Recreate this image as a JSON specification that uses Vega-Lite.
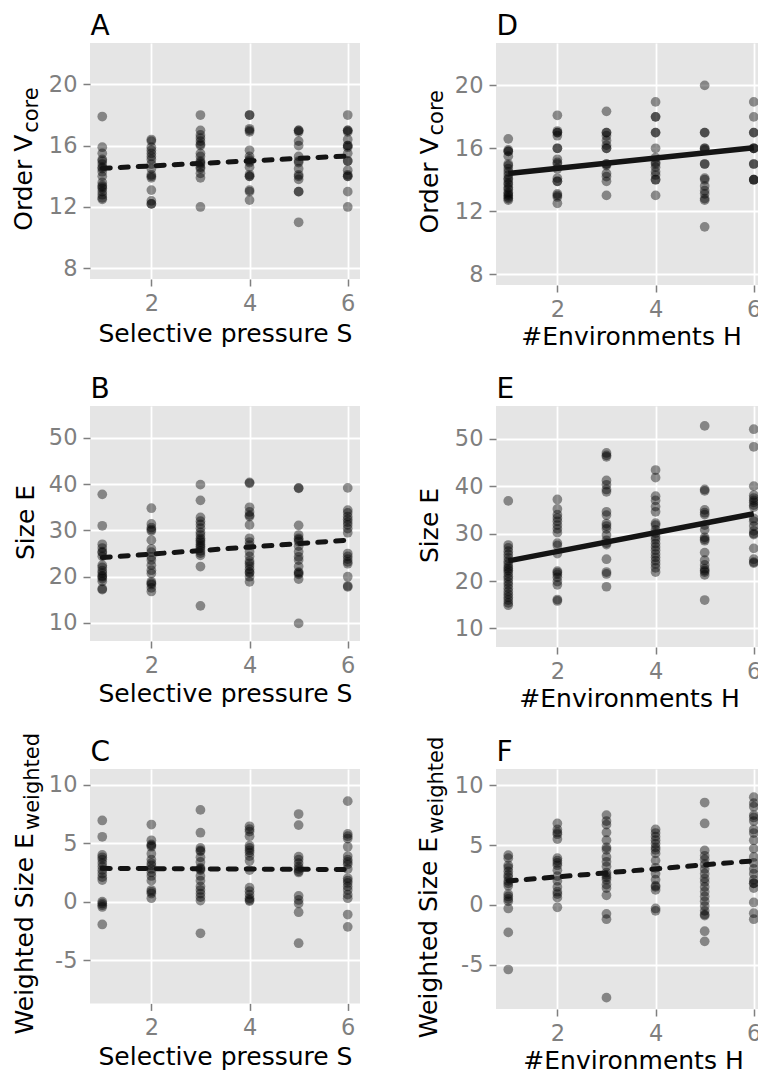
{
"$schema": "https://vega.github.io/schema/vega-lite/v6.json",
"autosize": {"type": "none"},
"padding": {"left": 90, "top": 43, "right": 668, "bottom": 1028},
"background": "white",
"datasets": {
"pts": [
{"p":"A","x":1,"y":17.9},{"p":"A","x":1,"y":15.9},{"p":"A","x":1,"y":15.5},{"p":"A","x":1,"y":15.1},{"p":"A","x":1,"y":15.0},{"p":"A","x":1,"y":14.8},{"p":"A","x":1,"y":14.6},{"p":"A","x":1,"y":14.5},{"p":"A","x":1,"y":14.3},{"p":"A","x":1,"y":14.0},{"p":"A","x":1,"y":13.6},{"p":"A","x":1,"y":13.4},{"p":"A","x":1,"y":13.3},{"p":"A","x":1,"y":13.2},{"p":"A","x":1,"y":13.0},{"p":"A","x":1,"y":12.8},{"p":"A","x":1,"y":12.6},{"p":"A","x":1,"y":12.5},
{"p":"A","x":2,"y":16.4},{"p":"A","x":2,"y":16.3},{"p":"A","x":2,"y":15.9},{"p":"A","x":2,"y":15.7},{"p":"A","x":2,"y":15.5},{"p":"A","x":2,"y":15.3},{"p":"A","x":2,"y":15.1},{"p":"A","x":2,"y":14.8},{"p":"A","x":2,"y":14.5},{"p":"A","x":2,"y":14.1},{"p":"A","x":2,"y":14.0},{"p":"A","x":2,"y":13.9},{"p":"A","x":2,"y":13.1},{"p":"A","x":2,"y":12.4},{"p":"A","x":2,"y":12.2},{"p":"A","x":2,"y":12.2},
{"p":"A","x":3,"y":18.0},{"p":"A","x":3,"y":17.0},{"p":"A","x":3,"y":16.7},{"p":"A","x":3,"y":16.5},{"p":"A","x":3,"y":16.3},{"p":"A","x":3,"y":16.1},{"p":"A","x":3,"y":16.0},{"p":"A","x":3,"y":15.5},{"p":"A","x":3,"y":15.3},{"p":"A","x":3,"y":15.0},{"p":"A","x":3,"y":14.9},{"p":"A","x":3,"y":14.8},{"p":"A","x":3,"y":14.6},{"p":"A","x":3,"y":14.5},{"p":"A","x":3,"y":14.2},{"p":"A","x":3,"y":13.9},{"p":"A","x":3,"y":12.0},
{"p":"A","x":4,"y":18.0},{"p":"A","x":4,"y":18.0},{"p":"A","x":4,"y":17.1},{"p":"A","x":4,"y":17.0},{"p":"A","x":4,"y":16.9},{"p":"A","x":4,"y":15.7},{"p":"A","x":4,"y":15.3},{"p":"A","x":4,"y":15.1},{"p":"A","x":4,"y":15.0},{"p":"A","x":4,"y":14.9},{"p":"A","x":4,"y":14.6},{"p":"A","x":4,"y":14.1},{"p":"A","x":4,"y":14.0},{"p":"A","x":4,"y":14.0},{"p":"A","x":4,"y":13.1},{"p":"A","x":4,"y":13.0},{"p":"A","x":4,"y":12.45},
{"p":"A","x":5,"y":17.0},{"p":"A","x":5,"y":17.0},{"p":"A","x":5,"y":16.9},{"p":"A","x":5,"y":16.3},{"p":"A","x":5,"y":16.0},{"p":"A","x":5,"y":15.3},{"p":"A","x":5,"y":15.0},{"p":"A","x":5,"y":14.9},{"p":"A","x":5,"y":14.5},{"p":"A","x":5,"y":14.1},{"p":"A","x":5,"y":14.0},{"p":"A","x":5,"y":13.8},{"p":"A","x":5,"y":13.0},{"p":"A","x":5,"y":13.0},{"p":"A","x":5,"y":11.0},
{"p":"A","x":6,"y":18.0},{"p":"A","x":6,"y":17.0},{"p":"A","x":6,"y":17.0},{"p":"A","x":6,"y":16.9},{"p":"A","x":6,"y":16.4},{"p":"A","x":6,"y":16.0},{"p":"A","x":6,"y":16.0},{"p":"A","x":6,"y":15.9},{"p":"A","x":6,"y":15.5},{"p":"A","x":6,"y":15.0},{"p":"A","x":6,"y":15.0},{"p":"A","x":6,"y":14.4},{"p":"A","x":6,"y":14.1},{"p":"A","x":6,"y":14.0},{"p":"A","x":6,"y":14.0},{"p":"A","x":6,"y":13.0},{"p":"A","x":6,"y":12.0},
{"p":"D","x":1,"y":16.6},{"p":"D","x":1,"y":15.9},{"p":"D","x":1,"y":15.8},{"p":"D","x":1,"y":15.8},{"p":"D","x":1,"y":15.5},{"p":"D","x":1,"y":15.0},{"p":"D","x":1,"y":14.9},{"p":"D","x":1,"y":14.7},{"p":"D","x":1,"y":14.5},{"p":"D","x":1,"y":14.3},{"p":"D","x":1,"y":14.1},{"p":"D","x":1,"y":14.0},{"p":"D","x":1,"y":13.8},{"p":"D","x":1,"y":13.7},{"p":"D","x":1,"y":13.5},{"p":"D","x":1,"y":13.4},{"p":"D","x":1,"y":13.2},{"p":"D","x":1,"y":13.1},{"p":"D","x":1,"y":13.0},{"p":"D","x":1,"y":12.9},{"p":"D","x":1,"y":12.8},{"p":"D","x":1,"y":12.7},
{"p":"D","x":2,"y":18.1},{"p":"D","x":2,"y":17.1},{"p":"D","x":2,"y":17.0},{"p":"D","x":2,"y":17.0},{"p":"D","x":2,"y":16.8},{"p":"D","x":2,"y":16.0},{"p":"D","x":2,"y":16.0},{"p":"D","x":2,"y":15.3},{"p":"D","x":2,"y":15.1},{"p":"D","x":2,"y":15.0},{"p":"D","x":2,"y":14.7},{"p":"D","x":2,"y":14.1},{"p":"D","x":2,"y":13.9},{"p":"D","x":2,"y":13.9},{"p":"D","x":2,"y":13.1},{"p":"D","x":2,"y":13.0},{"p":"D","x":2,"y":12.9},{"p":"D","x":2,"y":12.5},
{"p":"D","x":3,"y":18.35},{"p":"D","x":3,"y":17.0},{"p":"D","x":3,"y":17.0},{"p":"D","x":3,"y":16.8},{"p":"D","x":3,"y":16.5},{"p":"D","x":3,"y":16.2},{"p":"D","x":3,"y":16.0},{"p":"D","x":3,"y":16.0},{"p":"D","x":3,"y":15.0},{"p":"D","x":3,"y":15.0},{"p":"D","x":3,"y":14.9},{"p":"D","x":3,"y":14.4},{"p":"D","x":3,"y":14.2},{"p":"D","x":3,"y":13.9},{"p":"D","x":3,"y":13.0},
{"p":"D","x":4,"y":18.95},{"p":"D","x":4,"y":18.0},{"p":"D","x":4,"y":18.0},{"p":"D","x":4,"y":17.0},{"p":"D","x":4,"y":17.0},{"p":"D","x":4,"y":16.0},{"p":"D","x":4,"y":15.4},{"p":"D","x":4,"y":15.1},{"p":"D","x":4,"y":15.0},{"p":"D","x":4,"y":14.8},{"p":"D","x":4,"y":14.5},{"p":"D","x":4,"y":14.3},{"p":"D","x":4,"y":14.0},{"p":"D","x":4,"y":14.0},{"p":"D","x":4,"y":13.0},
{"p":"D","x":5,"y":20.0},{"p":"D","x":5,"y":17.0},{"p":"D","x":5,"y":17.0},{"p":"D","x":5,"y":16.0},{"p":"D","x":5,"y":16.0},{"p":"D","x":5,"y":15.9},{"p":"D","x":5,"y":15.0},{"p":"D","x":5,"y":15.0},{"p":"D","x":5,"y":14.1},{"p":"D","x":5,"y":14.0},{"p":"D","x":5,"y":13.6},{"p":"D","x":5,"y":13.3},{"p":"D","x":5,"y":13.1},{"p":"D","x":5,"y":12.8},{"p":"D","x":5,"y":12.7},{"p":"D","x":5,"y":11.0},
{"p":"D","x":6,"y":18.95},{"p":"D","x":6,"y":18.0},{"p":"D","x":6,"y":17.0},{"p":"D","x":6,"y":17.0},{"p":"D","x":6,"y":16.0},{"p":"D","x":6,"y":16.0},{"p":"D","x":6,"y":16.0},{"p":"D","x":6,"y":15.0},{"p":"D","x":6,"y":15.0},{"p":"D","x":6,"y":14.0},{"p":"D","x":6,"y":14.0},{"p":"D","x":6,"y":14.0},
{"p":"B","x":1,"y":37.8},{"p":"B","x":1,"y":31.0},{"p":"B","x":1,"y":27.0},{"p":"B","x":1,"y":26.2},{"p":"B","x":1,"y":25.4},{"p":"B","x":1,"y":25.2},{"p":"B","x":1,"y":24.4},{"p":"B","x":1,"y":22.5},{"p":"B","x":1,"y":22.0},{"p":"B","x":1,"y":21.3},{"p":"B","x":1,"y":20.8},{"p":"B","x":1,"y":20.2},{"p":"B","x":1,"y":20.0},{"p":"B","x":1,"y":19.6},{"p":"B","x":1,"y":19.0},{"p":"B","x":1,"y":17.4},{"p":"B","x":1,"y":17.2},
{"p":"B","x":2,"y":34.8},{"p":"B","x":2,"y":31.4},{"p":"B","x":2,"y":30.6},{"p":"B","x":2,"y":30.2},{"p":"B","x":2,"y":29.9},{"p":"B","x":2,"y":27.9},{"p":"B","x":2,"y":26.0},{"p":"B","x":2,"y":25.3},{"p":"B","x":2,"y":24.3},{"p":"B","x":2,"y":23.6},{"p":"B","x":2,"y":22.5},{"p":"B","x":2,"y":21.4},{"p":"B","x":2,"y":20.7},{"p":"B","x":2,"y":18.9},{"p":"B","x":2,"y":18.6},{"p":"B","x":2,"y":18.3},{"p":"B","x":2,"y":17.6},{"p":"B","x":2,"y":16.8},
{"p":"B","x":3,"y":39.9},{"p":"B","x":3,"y":36.5},{"p":"B","x":3,"y":32.8},{"p":"B","x":3,"y":32.0},{"p":"B","x":3,"y":31.3},{"p":"B","x":3,"y":30.5},{"p":"B","x":3,"y":29.6},{"p":"B","x":3,"y":29.0},{"p":"B","x":3,"y":28.3},{"p":"B","x":3,"y":27.9},{"p":"B","x":3,"y":27.5},{"p":"B","x":3,"y":27.0},{"p":"B","x":3,"y":26.6},{"p":"B","x":3,"y":26.2},{"p":"B","x":3,"y":25.6},{"p":"B","x":3,"y":25.1},{"p":"B","x":3,"y":24.6},{"p":"B","x":3,"y":22.2},{"p":"B","x":3,"y":13.7},
{"p":"B","x":4,"y":40.4},{"p":"B","x":4,"y":40.2},{"p":"B","x":4,"y":35.0},{"p":"B","x":4,"y":34.0},{"p":"B","x":4,"y":33.3},{"p":"B","x":4,"y":33.0},{"p":"B","x":4,"y":31.2},{"p":"B","x":4,"y":28.3},{"p":"B","x":4,"y":27.5},{"p":"B","x":4,"y":26.8},{"p":"B","x":4,"y":25.4},{"p":"B","x":4,"y":24.4},{"p":"B","x":4,"y":23.4},{"p":"B","x":4,"y":22.9},{"p":"B","x":4,"y":22.3},{"p":"B","x":4,"y":21.6},{"p":"B","x":4,"y":21.0},{"p":"B","x":4,"y":20.8},{"p":"B","x":4,"y":20.0},{"p":"B","x":4,"y":18.9},
{"p":"B","x":5,"y":39.2},{"p":"B","x":5,"y":39.1},{"p":"B","x":5,"y":31.1},{"p":"B","x":5,"y":29.0},{"p":"B","x":5,"y":28.3},{"p":"B","x":5,"y":28.0},{"p":"B","x":5,"y":27.6},{"p":"B","x":5,"y":26.6},{"p":"B","x":5,"y":25.4},{"p":"B","x":5,"y":24.3},{"p":"B","x":5,"y":23.6},{"p":"B","x":5,"y":22.2},{"p":"B","x":5,"y":21.0},{"p":"B","x":5,"y":20.8},{"p":"B","x":5,"y":20.5},{"p":"B","x":5,"y":19.5},{"p":"B","x":5,"y":9.9},
{"p":"B","x":6,"y":39.2},{"p":"B","x":6,"y":34.4},{"p":"B","x":6,"y":33.8},{"p":"B","x":6,"y":33.0},{"p":"B","x":6,"y":32.4},{"p":"B","x":6,"y":31.8},{"p":"B","x":6,"y":31.2},{"p":"B","x":6,"y":30.4},{"p":"B","x":6,"y":29.5},{"p":"B","x":6,"y":25.0},{"p":"B","x":6,"y":24.4},{"p":"B","x":6,"y":23.8},{"p":"B","x":6,"y":23.2},{"p":"B","x":6,"y":22.8},{"p":"B","x":6,"y":20.0},{"p":"B","x":6,"y":18.0},{"p":"B","x":6,"y":17.8},
{"p":"E","x":1,"y":36.9},{"p":"E","x":1,"y":27.6},{"p":"E","x":1,"y":27.0},{"p":"E","x":1,"y":26.3},{"p":"E","x":1,"y":25.6},{"p":"E","x":1,"y":24.9},{"p":"E","x":1,"y":24.2},{"p":"E","x":1,"y":23.6},{"p":"E","x":1,"y":23.0},{"p":"E","x":1,"y":22.6},{"p":"E","x":1,"y":22.2},{"p":"E","x":1,"y":21.7},{"p":"E","x":1,"y":21.0},{"p":"E","x":1,"y":20.5},{"p":"E","x":1,"y":19.8},{"p":"E","x":1,"y":19.2},{"p":"E","x":1,"y":18.5},{"p":"E","x":1,"y":17.8},{"p":"E","x":1,"y":17.2},{"p":"E","x":1,"y":16.6},{"p":"E","x":1,"y":16.0},{"p":"E","x":1,"y":15.4},{"p":"E","x":1,"y":14.9},
{"p":"E","x":2,"y":37.2},{"p":"E","x":2,"y":35.2},{"p":"E","x":2,"y":34.0},{"p":"E","x":2,"y":33.3},{"p":"E","x":2,"y":32.6},{"p":"E","x":2,"y":31.8},{"p":"E","x":2,"y":31.0},{"p":"E","x":2,"y":30.2},{"p":"E","x":2,"y":28.0},{"p":"E","x":2,"y":27.5},{"p":"E","x":2,"y":25.8},{"p":"E","x":2,"y":22.1},{"p":"E","x":2,"y":21.8},{"p":"E","x":2,"y":21.4},{"p":"E","x":2,"y":20.8},{"p":"E","x":2,"y":19.9},{"p":"E","x":2,"y":19.2},{"p":"E","x":2,"y":16.1},{"p":"E","x":2,"y":15.8},
{"p":"E","x":3,"y":47.0},{"p":"E","x":3,"y":46.5},{"p":"E","x":3,"y":46.2},{"p":"E","x":3,"y":41.2},{"p":"E","x":3,"y":40.3},{"p":"E","x":3,"y":39.3},{"p":"E","x":3,"y":38.8},{"p":"E","x":3,"y":34.6},{"p":"E","x":3,"y":33.9},{"p":"E","x":3,"y":32.1},{"p":"E","x":3,"y":31.6},{"p":"E","x":3,"y":31.0},{"p":"E","x":3,"y":29.7},{"p":"E","x":3,"y":28.6},{"p":"E","x":3,"y":28.0},{"p":"E","x":3,"y":27.7},{"p":"E","x":3,"y":24.6},{"p":"E","x":3,"y":21.9},{"p":"E","x":3,"y":21.5},{"p":"E","x":3,"y":18.8},
{"p":"E","x":4,"y":43.4},{"p":"E","x":4,"y":41.8},{"p":"E","x":4,"y":37.9},{"p":"E","x":4,"y":37.0},{"p":"E","x":4,"y":35.7},{"p":"E","x":4,"y":34.6},{"p":"E","x":4,"y":32.2},{"p":"E","x":4,"y":31.8},{"p":"E","x":4,"y":30.8},{"p":"E","x":4,"y":30.1},{"p":"E","x":4,"y":29.3},{"p":"E","x":4,"y":28.7},{"p":"E","x":4,"y":27.9},{"p":"E","x":4,"y":27.2},{"p":"E","x":4,"y":26.5},{"p":"E","x":4,"y":25.7},{"p":"E","x":4,"y":25.0},{"p":"E","x":4,"y":24.3},{"p":"E","x":4,"y":23.6},{"p":"E","x":4,"y":22.8},{"p":"E","x":4,"y":21.9},
{"p":"E","x":5,"y":52.7},{"p":"E","x":5,"y":39.3},{"p":"E","x":5,"y":39.0},{"p":"E","x":5,"y":35.0},{"p":"E","x":5,"y":34.4},{"p":"E","x":5,"y":34.0},{"p":"E","x":5,"y":31.8},{"p":"E","x":5,"y":30.8},{"p":"E","x":5,"y":29.2},{"p":"E","x":5,"y":28.8},{"p":"E","x":5,"y":28.5},{"p":"E","x":5,"y":26.0},{"p":"E","x":5,"y":24.4},{"p":"E","x":5,"y":23.4},{"p":"E","x":5,"y":22.6},{"p":"E","x":5,"y":22.2},{"p":"E","x":5,"y":21.9},{"p":"E","x":5,"y":21.3},{"p":"E","x":5,"y":16.0},
{"p":"E","x":6,"y":52.0},{"p":"E","x":6,"y":48.3},{"p":"E","x":6,"y":40.0},{"p":"E","x":6,"y":38.1},{"p":"E","x":6,"y":37.5},{"p":"E","x":6,"y":37.0},{"p":"E","x":6,"y":36.6},{"p":"E","x":6,"y":36.0},{"p":"E","x":6,"y":35.6},{"p":"E","x":6,"y":33.2},{"p":"E","x":6,"y":32.6},{"p":"E","x":6,"y":31.6},{"p":"E","x":6,"y":30.6},{"p":"E","x":6,"y":30.0},{"p":"E","x":6,"y":29.8},{"p":"E","x":6,"y":26.9},{"p":"E","x":6,"y":24.6},{"p":"E","x":6,"y":24.0},{"p":"E","x":6,"y":23.8},
{"p":"C","x":1,"y":6.95},{"p":"C","x":1,"y":5.55},{"p":"C","x":1,"y":4.0},{"p":"C","x":1,"y":3.8},{"p":"C","x":1,"y":3.6},{"p":"C","x":1,"y":3.3},{"p":"C","x":1,"y":3.0},{"p":"C","x":1,"y":2.7},{"p":"C","x":1,"y":2.4},{"p":"C","x":1,"y":2.1},{"p":"C","x":1,"y":1.85},{"p":"C","x":1,"y":0.0},{"p":"C","x":1,"y":-0.15},{"p":"C","x":1,"y":-0.3},{"p":"C","x":1,"y":-0.45},{"p":"C","x":1,"y":-1.95},
{"p":"C","x":2,"y":6.6},{"p":"C","x":2,"y":5.25},{"p":"C","x":2,"y":4.9},{"p":"C","x":2,"y":4.8},{"p":"C","x":2,"y":4.7},{"p":"C","x":2,"y":4.1},{"p":"C","x":2,"y":3.6},{"p":"C","x":2,"y":3.3},{"p":"C","x":2,"y":3.1},{"p":"C","x":2,"y":2.8},{"p":"C","x":2,"y":2.5},{"p":"C","x":2,"y":2.2},{"p":"C","x":2,"y":1.8},{"p":"C","x":2,"y":1.0},{"p":"C","x":2,"y":0.85},{"p":"C","x":2,"y":0.7},{"p":"C","x":2,"y":0.3},
{"p":"C","x":3,"y":7.85},{"p":"C","x":3,"y":5.9},{"p":"C","x":3,"y":4.6},{"p":"C","x":3,"y":4.4},{"p":"C","x":3,"y":4.3},{"p":"C","x":3,"y":3.8},{"p":"C","x":3,"y":3.4},{"p":"C","x":3,"y":2.9},{"p":"C","x":3,"y":2.8},{"p":"C","x":3,"y":2.7},{"p":"C","x":3,"y":2.2},{"p":"C","x":3,"y":1.8},{"p":"C","x":3,"y":1.3},{"p":"C","x":3,"y":1.0},{"p":"C","x":3,"y":0.7},{"p":"C","x":3,"y":0.4},{"p":"C","x":3,"y":0.1},{"p":"C","x":3,"y":-2.7},
{"p":"C","x":4,"y":6.45},{"p":"C","x":4,"y":6.2},{"p":"C","x":4,"y":6.0},{"p":"C","x":4,"y":5.6},{"p":"C","x":4,"y":4.8},{"p":"C","x":4,"y":4.6},{"p":"C","x":4,"y":4.4},{"p":"C","x":4,"y":4.2},{"p":"C","x":4,"y":3.9},{"p":"C","x":4,"y":3.5},{"p":"C","x":4,"y":2.7},{"p":"C","x":4,"y":1.2},{"p":"C","x":4,"y":0.9},{"p":"C","x":4,"y":0.6},{"p":"C","x":4,"y":0.3},{"p":"C","x":4,"y":0.15},{"p":"C","x":4,"y":0.05},
{"p":"C","x":5,"y":7.5},{"p":"C","x":5,"y":6.55},{"p":"C","x":5,"y":3.85},{"p":"C","x":5,"y":3.6},{"p":"C","x":5,"y":3.3},{"p":"C","x":5,"y":3.0},{"p":"C","x":5,"y":2.8},{"p":"C","x":5,"y":2.6},{"p":"C","x":5,"y":2.5},{"p":"C","x":5,"y":0.5},{"p":"C","x":5,"y":0.15},{"p":"C","x":5,"y":-0.15},{"p":"C","x":5,"y":-0.9},{"p":"C","x":5,"y":-3.55},
{"p":"C","x":6,"y":8.6},{"p":"C","x":6,"y":5.8},{"p":"C","x":6,"y":5.6},{"p":"C","x":6,"y":5.4},{"p":"C","x":6,"y":4.7},{"p":"C","x":6,"y":3.9},{"p":"C","x":6,"y":3.6},{"p":"C","x":6,"y":3.4},{"p":"C","x":6,"y":3.2},{"p":"C","x":6,"y":2.8},{"p":"C","x":6,"y":2.0},{"p":"C","x":6,"y":1.8},{"p":"C","x":6,"y":1.6},{"p":"C","x":6,"y":1.3},{"p":"C","x":6,"y":1.0},{"p":"C","x":6,"y":0.6},{"p":"C","x":6,"y":0.3},{"p":"C","x":6,"y":-1.1},{"p":"C","x":6,"y":-2.15},
{"p":"F","x":1,"y":4.15},{"p":"F","x":1,"y":3.9},{"p":"F","x":1,"y":3.3},{"p":"F","x":1,"y":3.1},{"p":"F","x":1,"y":2.8},{"p":"F","x":1,"y":2.5},{"p":"F","x":1,"y":2.3},{"p":"F","x":1,"y":2.0},{"p":"F","x":1,"y":1.8},{"p":"F","x":1,"y":1.6},{"p":"F","x":1,"y":0.9},{"p":"F","x":1,"y":0.7},{"p":"F","x":1,"y":0.5},{"p":"F","x":1,"y":0.3},{"p":"F","x":1,"y":-0.3},{"p":"F","x":1,"y":-2.3},{"p":"F","x":1,"y":-5.4},
{"p":"F","x":2,"y":6.8},{"p":"F","x":2,"y":6.3},{"p":"F","x":2,"y":6.05},{"p":"F","x":2,"y":5.9},{"p":"F","x":2,"y":5.5},{"p":"F","x":2,"y":3.9},{"p":"F","x":2,"y":3.7},{"p":"F","x":2,"y":3.5},{"p":"F","x":2,"y":3.3},{"p":"F","x":2,"y":2.9},{"p":"F","x":2,"y":2.4},{"p":"F","x":2,"y":2.0},{"p":"F","x":2,"y":1.5},{"p":"F","x":2,"y":1.1},{"p":"F","x":2,"y":0.9},{"p":"F","x":2,"y":0.6},{"p":"F","x":2,"y":-0.2},
{"p":"F","x":3,"y":7.5},{"p":"F","x":3,"y":7.0},{"p":"F","x":3,"y":6.7},{"p":"F","x":3,"y":6.05},{"p":"F","x":3,"y":5.4},{"p":"F","x":3,"y":4.8},{"p":"F","x":3,"y":4.6},{"p":"F","x":3,"y":4.0},{"p":"F","x":3,"y":3.6},{"p":"F","x":3,"y":3.2},{"p":"F","x":3,"y":2.7},{"p":"F","x":3,"y":2.5},{"p":"F","x":3,"y":2.3},{"p":"F","x":3,"y":2.1},{"p":"F","x":3,"y":1.7},{"p":"F","x":3,"y":1.4},{"p":"F","x":3,"y":0.8},{"p":"F","x":3,"y":-0.75},{"p":"F","x":3,"y":-1.2},{"p":"F","x":3,"y":-7.75},
{"p":"F","x":4,"y":6.3},{"p":"F","x":4,"y":6.0},{"p":"F","x":4,"y":5.7},{"p":"F","x":4,"y":5.4},{"p":"F","x":4,"y":5.1},{"p":"F","x":4,"y":4.8},{"p":"F","x":4,"y":4.6},{"p":"F","x":4,"y":4.3},{"p":"F","x":4,"y":3.7},{"p":"F","x":4,"y":3.1},{"p":"F","x":4,"y":2.6},{"p":"F","x":4,"y":2.1},{"p":"F","x":4,"y":1.6},{"p":"F","x":4,"y":1.5},{"p":"F","x":4,"y":1.25},{"p":"F","x":4,"y":-0.3},{"p":"F","x":4,"y":-0.5},
{"p":"F","x":5,"y":8.55},{"p":"F","x":5,"y":6.8},{"p":"F","x":5,"y":4.55},{"p":"F","x":5,"y":4.1},{"p":"F","x":5,"y":3.8},{"p":"F","x":5,"y":3.4},{"p":"F","x":5,"y":3.0},{"p":"F","x":5,"y":2.6},{"p":"F","x":5,"y":2.2},{"p":"F","x":5,"y":1.9},{"p":"F","x":5,"y":1.5},{"p":"F","x":5,"y":1.1},{"p":"F","x":5,"y":0.7},{"p":"F","x":5,"y":0.3},{"p":"F","x":5,"y":-0.1},{"p":"F","x":5,"y":-0.5},{"p":"F","x":5,"y":-0.8},{"p":"F","x":5,"y":-0.9},{"p":"F","x":5,"y":-2.2},{"p":"F","x":5,"y":-3.05},
{"p":"F","x":6,"y":9.0},{"p":"F","x":6,"y":8.5},{"p":"F","x":6,"y":8.2},{"p":"F","x":6,"y":7.5},{"p":"F","x":6,"y":7.3},{"p":"F","x":6,"y":7.0},{"p":"F","x":6,"y":6.3},{"p":"F","x":6,"y":6.0},{"p":"F","x":6,"y":5.4},{"p":"F","x":6,"y":4.7},{"p":"F","x":6,"y":4.0},{"p":"F","x":6,"y":3.5},{"p":"F","x":6,"y":3.0},{"p":"F","x":6,"y":2.6},{"p":"F","x":6,"y":2.1},{"p":"F","x":6,"y":1.8},{"p":"F","x":6,"y":1.8},{"p":"F","x":6,"y":1.4},{"p":"F","x":6,"y":0.2},{"p":"F","x":6,"y":-0.7},{"p":"F","x":6,"y":-1.2}
],
"fit": [
{"p":"A","x":1,"y":14.52},{"p":"A","x":6,"y":15.33},
{"p":"B","x":1,"y":24.15},{"p":"B","x":6,"y":27.9},
{"p":"C","x":1,"y":2.85},{"p":"C","x":6,"y":2.75},
{"p":"D","x":1,"y":14.4},{"p":"D","x":6,"y":16.03},
{"p":"E","x":1,"y":24.25},{"p":"E","x":6,"y":34.2},
{"p":"F","x":1,"y":2.0},{"p":"F","x":6,"y":3.68}
]
},
"columns": 2,
"align": "all",
"bounds": "flush",
"spacing": {"row": 121, "column": 136},
"concat": [
{
 "width": 270, "height": 236,
 "layer": [
  {"data": {"name": "pts"}, "transform": [{"filter": {"field": "p", "equal": "A"}}],
   "mark": {"type": "circle", "size": 95, "color": "#000000", "opacity": 0.42},
   "encoding": {
    "x": {"field": "x", "type": "quantitative", "scale": {"domain": [0.75, 6.25], "nice": false, "zero": false},
          "axis": {"values": [2,4,6], "title": "Selective pressure S", "titleY": 62}},
    "y": {"field": "y", "type": "quantitative", "scale": {"domain": [7.3, 22.7], "nice": false, "zero": false},
          "axis": {"values": [8,12,16,20], "title": "Order V", "titleAlign": "left", "titleX": -58.5, "titleY": 187.3, "labelExpr": "'' + datum.value"}}
   }},
  {"data": {"name": "fit"}, "transform": [{"filter": {"field": "p", "equal": "A"}}],
   "mark": {"type": "line", "color": "#141414", "strokeWidth": 5, "strokeDash": [8, 10], "strokeCap": "round"},
   "encoding": {
    "x": {"field": "x", "type": "quantitative", "axis": {"orient": "top", "values": [1,3,5], "gridColor": "#f2f2f2", "gridWidth": 1, "labels": false, "ticks": false, "title": "A", "titleFontSize": 28, "titleAlign": "left", "titleBaseline": "alphabetic", "titleX": 0, "titleY": -8.5}},
    "y": {"field": "y", "type": "quantitative", "axis": {"orient": "left", "values": [10,14,18,22], "gridColor": "#f2f2f2", "gridWidth": 1, "labels": false, "ticks": false, "title": "core", "titleFontSize": 21, "titleAlign": "left", "titleX": -53, "titleY": 89.3}}
   }}
 ],
 "resolve": {"axis": {"x": "independent", "y": "independent"}}
},
{
 "width": 262, "height": 242,
 "layer": [
  {"data": {"name": "pts"}, "transform": [{"filter": {"field": "p", "equal": "D"}}],
   "mark": {"type": "circle", "size": 95, "color": "#000000", "opacity": 0.42},
   "encoding": {
    "x": {"field": "x", "type": "quantitative", "scale": {"domain": [0.75, 6.086], "nice": false, "zero": false},
          "axis": {"values": [2,4,6], "title": "#Environments H", "titleY": 59.5, "titleX": 135}},
    "y": {"field": "y", "type": "quantitative", "scale": {"domain": [7.3, 22.7], "nice": false, "zero": false},
          "axis": {"values": [8,12,16,20], "title": "Order V", "titleAlign": "left", "titleX": -59, "titleY": 190, "labelExpr": "'' + datum.value"}}
   }},
  {"data": {"name": "fit"}, "transform": [{"filter": {"field": "p", "equal": "D"}}],
   "mark": {"type": "line", "color": "#141414", "strokeWidth": 5.5},
   "encoding": {
    "x": {"field": "x", "type": "quantitative", "axis": {"orient": "top", "values": [1,3,5], "gridColor": "#f2f2f2", "gridWidth": 1, "labels": false, "ticks": false, "title": "D", "titleFontSize": 28, "titleAlign": "left", "titleBaseline": "alphabetic", "titleX": 0, "titleY": -8.5}},
    "y": {"field": "y", "type": "quantitative", "axis": {"orient": "left", "values": [10,14,18,22], "gridColor": "#f2f2f2", "gridWidth": 1, "labels": false, "ticks": false, "title": "core", "titleFontSize": 21, "titleAlign": "left", "titleX": -53.5, "titleY": 92}}
   }}
 ],
 "resolve": {"axis": {"x": "independent", "y": "independent"}}
},
{
 "width": 270, "height": 235,
 "layer": [
  {"data": {"name": "pts"}, "transform": [{"filter": {"field": "p", "equal": "B"}}],
   "mark": {"type": "circle", "size": 95, "color": "#000000", "opacity": 0.42},
   "encoding": {
    "x": {"field": "x", "type": "quantitative", "scale": {"domain": [0.75, 6.25], "nice": false, "zero": false},
          "axis": {"values": [2,4,6], "title": "Selective pressure S", "titleY": 60}},
    "y": {"field": "y", "type": "quantitative", "scale": {"domain": [6.1, 56.9], "nice": false, "zero": false},
          "axis": {"values": [10,20,30,40,50], "title": "Size E", "titleAlign": "center", "titleX": -57, "titleY": 116, "labelExpr": "'' + datum.value"}}
   }},
  {"data": {"name": "fit"}, "transform": [{"filter": {"field": "p", "equal": "B"}}],
   "mark": {"type": "line", "color": "#141414", "strokeWidth": 5, "strokeDash": [8, 10], "strokeCap": "round"},
   "encoding": {
    "x": {"field": "x", "type": "quantitative", "axis": {"orient": "top", "values": [1,3,5], "gridColor": "#f2f2f2", "gridWidth": 1, "labels": false, "ticks": false, "title": "B", "titleFontSize": 28, "titleAlign": "left", "titleBaseline": "alphabetic", "titleX": 0, "titleY": -8.5}},
    "y": {"field": "y", "type": "quantitative", "axis": {"orient": "left", "values": [15,25,35,45,55], "gridColor": "#f2f2f2", "gridWidth": 1, "labels": false, "ticks": false, "title": null}}
   }}
 ],
 "resolve": {"axis": {"x": "independent", "y": "independent"}}
},
{
 "width": 262, "height": 241,
 "layer": [
  {"data": {"name": "pts"}, "transform": [{"filter": {"field": "p", "equal": "E"}}],
   "mark": {"type": "circle", "size": 95, "color": "#000000", "opacity": 0.42},
   "encoding": {
    "x": {"field": "x", "type": "quantitative", "scale": {"domain": [0.75, 6.086], "nice": false, "zero": false},
          "axis": {"values": [2,4,6], "title": "#Environments H", "titleY": 59.5, "titleX": 133}},
    "y": {"field": "y", "type": "quantitative", "scale": {"domain": [6.1, 56.9], "nice": false, "zero": false},
          "axis": {"values": [10,20,30,40,50], "title": "Size E", "titleAlign": "center", "titleX": -59, "titleY": 119, "labelExpr": "'' + datum.value"}}
   }},
  {"data": {"name": "fit"}, "transform": [{"filter": {"field": "p", "equal": "E"}}],
   "mark": {"type": "line", "color": "#141414", "strokeWidth": 5.5},
   "encoding": {
    "x": {"field": "x", "type": "quantitative", "axis": {"orient": "top", "values": [1,3,5], "gridColor": "#f2f2f2", "gridWidth": 1, "labels": false, "ticks": false, "title": "E", "titleFontSize": 28, "titleAlign": "left", "titleBaseline": "alphabetic", "titleX": 0, "titleY": -8.5}},
    "y": {"field": "y", "type": "quantitative", "axis": {"orient": "left", "values": [15,25,35,45,55], "gridColor": "#f2f2f2", "gridWidth": 1, "labels": false, "ticks": false, "title": null}}
   }}
 ],
 "resolve": {"axis": {"x": "independent", "y": "independent"}}
},
{
 "width": 270, "height": 234.4,
 "layer": [
  {"data": {"name": "pts"}, "transform": [{"filter": {"field": "p", "equal": "C"}}],
   "mark": {"type": "circle", "size": 95, "color": "#000000", "opacity": 0.42},
   "encoding": {
    "x": {"field": "x", "type": "quantitative", "scale": {"domain": [0.75, 6.25], "nice": false, "zero": false},
          "axis": {"values": [2,4,6], "title": "Selective pressure S", "titleY": 61}},
    "y": {"field": "y", "type": "quantitative", "scale": {"domain": [-8.7, 11.35], "nice": false, "zero": false},
          "axis": {"values": [-5,0,5,10], "title": "Weighted Size E", "titleAlign": "left", "titleX": -57.5, "titleY": 265, "labelExpr": "'' + datum.value"}}
   }},
  {"data": {"name": "fit"}, "transform": [{"filter": {"field": "p", "equal": "C"}}],
   "mark": {"type": "line", "color": "#141414", "strokeWidth": 5, "strokeDash": [8, 10], "strokeCap": "round"},
   "encoding": {
    "x": {"field": "x", "type": "quantitative", "axis": {"orient": "top", "values": [1,3,5], "gridColor": "#f2f2f2", "gridWidth": 1, "labels": false, "ticks": false, "title": "C", "titleFontSize": 28, "titleAlign": "left", "titleBaseline": "alphabetic", "titleX": 0, "titleY": -8.5}},
    "y": {"field": "y", "type": "quantitative", "axis": {"orient": "left", "values": [-7.5,-2.5,2.5,7.5], "gridColor": "#f2f2f2", "gridWidth": 1, "labels": false, "ticks": false, "title": "weighted", "titleFontSize": 21, "titleAlign": "left", "titleX": -52, "titleY": 60.5}}
   }}
 ],
 "resolve": {"axis": {"x": "independent", "y": "independent"}}
},
{
 "width": 262, "height": 240,
 "layer": [
  {"data": {"name": "pts"}, "transform": [{"filter": {"field": "p", "equal": "F"}}],
   "mark": {"type": "circle", "size": 95, "color": "#000000", "opacity": 0.42},
   "encoding": {
    "x": {"field": "x", "type": "quantitative", "scale": {"domain": [0.75, 6.086], "nice": false, "zero": false},
          "axis": {"values": [2,4,6], "title": "#Environments H", "titleY": 59, "titleX": 137}},
    "y": {"field": "y", "type": "quantitative", "scale": {"domain": [-8.7, 11.35], "nice": false, "zero": false},
          "axis": {"values": [-5,0,5,10], "title": "Weighted Size E", "titleAlign": "left", "titleX": -59.5, "titleY": 268.7, "labelExpr": "'' + datum.value"}}
   }},
  {"data": {"name": "fit"}, "transform": [{"filter": {"field": "p", "equal": "F"}}],
   "mark": {"type": "line", "color": "#141414", "strokeWidth": 5, "strokeDash": [8, 10], "strokeCap": "round"},
   "encoding": {
    "x": {"field": "x", "type": "quantitative", "axis": {"orient": "top", "values": [1,3,5], "gridColor": "#f2f2f2", "gridWidth": 1, "labels": false, "ticks": false, "title": "F", "titleFontSize": 28, "titleAlign": "left", "titleBaseline": "alphabetic", "titleX": 0, "titleY": -8.5}},
    "y": {"field": "y", "type": "quantitative", "axis": {"orient": "left", "values": [-7.5,-2.5,2.5,7.5], "gridColor": "#f2f2f2", "gridWidth": 1, "labels": false, "ticks": false, "title": "weighted", "titleFontSize": 21, "titleAlign": "left", "titleX": -54, "titleY": 64.2}}
   }}
 ],
 "resolve": {"axis": {"x": "independent", "y": "independent"}}
}
],
"config": {
 "font": "Liberation Sans",
 "view": {"fill": "#e5e5e5", "stroke": null},
 "axis": {
  "domain": false, "grid": true, "gridColor": "#ffffff", "gridWidth": 1.8,
  "tickSize": 7, "tickColor": "#7f7f7f", "tickWidth": 1.5,
  "labelFont": "DejaVu Sans", "labelFontSize": 22.5, "labelColor": "#7f7f7f", "labelPadding": 6,
  "titleFont": "DejaVu Sans", "titleFontSize": 25, "titleFontWeight": "normal", "titleColor": "#000000"
 },
 "axisX": {"labelPadding": 24, "labelBaseline": "alphabetic", "titleBaseline": "alphabetic", "titleAngle": 0},
 "axisY": {"titleAngle": 270, "titleBaseline": "alphabetic"}
}
}
